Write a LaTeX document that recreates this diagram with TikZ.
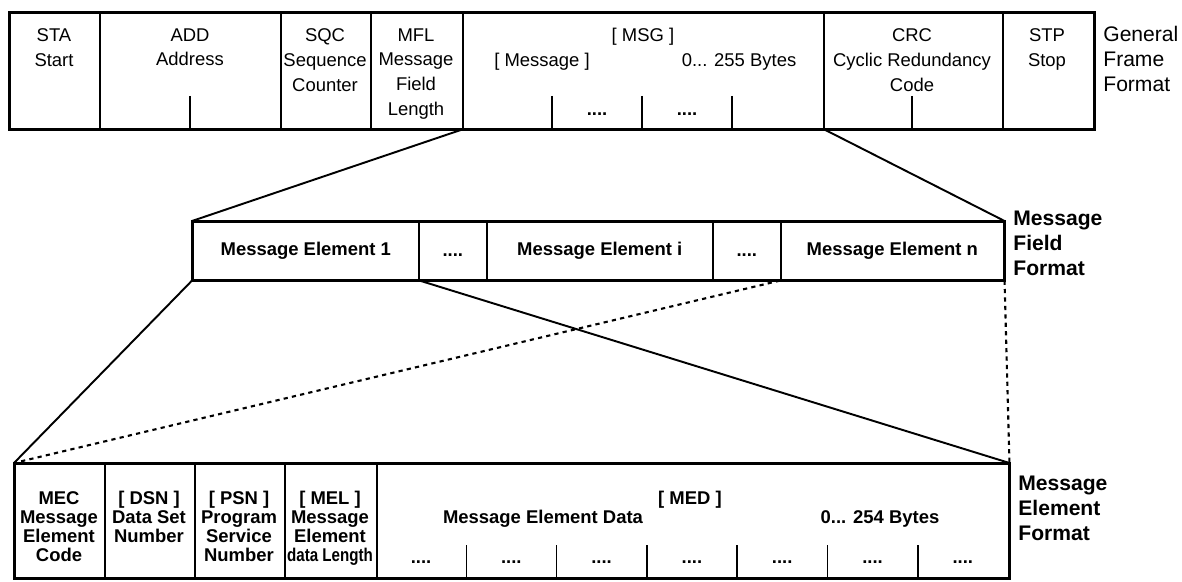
\documentclass[tikz,border=0pt]{standalone}
\usepackage{fontspec}
\usepackage{graphicx}
\setmainfont{Liberation Sans}

\tikzset{
  field/.style={draw, line width=0.9pt, inner sep=0pt, anchor=north west},
  frame/.style={line width=1.6pt},
  fan/.style={line width=1.1pt},
  fandot/.style={line width=1.2pt, dash pattern=on 2.4pt off 2.4pt},
  tick/.style={line width=0.9pt},
  toptext/.style={align=center, anchor=north, inner sep=0pt, font=\fontsize{10.5}{14.2}\selectfont},
  midtext/.style={inner sep=0pt, font=\bfseries\fontsize{10.5}{12}\selectfont},
  bottext/.style={align=center, anchor=north, inner sep=0pt, font=\bfseries\fontsize{10.5}{10.8}\selectfont},
  dotstext/.style={anchor=base, inner sep=0pt, font=\bfseries\fontsize{10.5}{12}\selectfont},
  sidetext/.style={align=left, anchor=north west, inner sep=0pt, font=\fontsize{12}{14.2}\selectfont},
}

\begin{document}
\begin{tikzpicture}[x=0.02cm, y=-0.02cm]
\useasboundingbox (0,0) rectangle (1182,581);
% ---------- general frame format ----------
\node[field, minimum width=1.8cm,  minimum height=2.32cm] (sta) at (9,12) {};
\node[field, minimum width=3.62cm, minimum height=2.32cm] (add) at (99,12) {};
\node[field, minimum width=1.8cm,  minimum height=2.32cm] (sqc) at (280,12) {};
\node[field, minimum width=1.84cm, minimum height=2.32cm] (mfl) at (370,12) {};
\node[field, minimum width=7.22cm, minimum height=2.32cm] (msg) at (462,12) {};
\node[field, minimum width=3.58cm, minimum height=2.32cm] (crc) at (823,12) {};
\node[field, minimum width=1.82cm, minimum height=2.32cm] (stp) at (1002,12) {};
\draw[frame] (sta.north west) rectangle (stp.south east);
\node[toptext] (sta-t) at (54,28) {STA\\Start};
\node[toptext] (add-t) at (190,28) {ADD\\Address};
\node[toptext] (sqc-t) at (325,28) {SQC\\Sequence\\Counter};
\node[toptext] (mfl-t) at (416,28) {MFL\\Message\\Field\\Length};
\node[toptext] (msg-t) at (643,28) {[ MSG ]};
\node[toptext] (msg-a) at (542,53) {[ Message ]};
\node[toptext] (msg-b) at (739,53) {0... 255 Bytes};
\node[toptext] (crc-t) at (912,28) {CRC\\Cyclic Redundancy\\Code};
\node[toptext] (stp-t) at (1047,28) {STP\\Stop};
\draw[tick] (190,96) -- (190,128);
\draw[tick] (552,96) -- (552,128);
\draw[tick] (642,96) -- (642,128);
\draw[tick] (732,96) -- (732,128);
\draw[tick] (912,96) -- (912,128);
\node[dotstext] (msg-d1) at (597,115) {....};
\node[dotstext] (msg-d2) at (687,115) {....};
\node[sidetext] (gff) at (1103,26) {General\\Frame\\Format};
% ---------- message field format ----------
\node[field, minimum width=4.52cm, minimum height=1.16cm] (me1) at (192,221) {};
\node[field, minimum width=1.36cm, minimum height=1.16cm] (mdx) at (418,221) {};
\node[field, minimum width=4.52cm, minimum height=1.16cm] (mei) at (486,221) {};
\node[field, minimum width=1.36cm, minimum height=1.16cm] (mdy) at (712,221) {};
\node[field, minimum width=4.46cm, minimum height=1.16cm] (men) at (780,221) {};
\draw[frame] (me1.north west) rectangle (men.south east);
\node[midtext] (me1-t) at (me1.center) {Message Element 1};
\node[dotstext] (mdx-t) at ([yshift=-0.12cm]mdx.center) {....};
\node[midtext] (mei-t) at (mei.center) {Message Element i};
\node[dotstext] (mdy-t) at ([yshift=-0.12cm]mdy.center) {....};
\node[midtext] (men-t) at (men.center) {Message Element n};
\node[sidetext, font=\bfseries\fontsize{12}{14.2}\selectfont] (mff) at (1013,211) {Message\\Field\\Format};
% ---------- message element format ----------
\node[field, minimum width=1.8cm,   minimum height=2.28cm] (mec) at (14,463) {};
\node[field, minimum width=1.8cm,   minimum height=2.28cm] (dsn) at (104,463) {};
\node[field, minimum width=1.8cm,   minimum height=2.28cm] (psn) at (194,463) {};
\node[field, minimum width=1.84cm,  minimum height=2.28cm] (mel) at (284,463) {};
\node[field, minimum width=12.64cm, minimum height=2.28cm] (med) at (376,463) {};
\draw[frame] (mec.north west) rectangle (med.south east);
\node[bottext] (mec-t) at (59,491) {MEC\\Message\\Element\\Code};
\node[bottext] (dsn-t) at (149,491) {[ DSN ]\\Data Set\\Number};
\node[bottext] (psn-t) at (239,491) {[ PSN ]\\Program\\Service\\Number};
\node[bottext] (mel-t) at (330,491) {[ MEL ]\\Message\\Element\\\scalebox{0.82}[1]{data Length}};
\node[bottext] (med-t) at (690,491) {[ MED ]};
\node[bottext] (med-a) at (543,510) {Message Element Data};
\node[bottext] (med-b) at (880,510) {0... 254 Bytes};
\foreach \k in {1,...,6}
  \draw[tick] (376+90.3*\k,545) -- (376+90.3*\k,577);
\foreach \k in {0,...,6}
  \node[dotstext] (med-d\k) at (421+90.3*\k,563) {....};
\node[sidetext, font=\bfseries\fontsize{12}{14.2}\selectfont] (mef) at (1018,476) {Message\\Element\\Format};
% ---------- fan lines ----------
\draw[fan] (msg.south west) -- (me1.north west);
\draw[fan] (msg.south east) -- (men.north east);
\draw[fan] (me1.south west) -- (mec.north west);
\draw[fan] (me1.south east) -- (med.north east);
\draw[fandot] (men.south west) -- (mec.north west);
\draw[fandot] (men.south east) -- (med.north east);
\end{tikzpicture}
\end{document}
